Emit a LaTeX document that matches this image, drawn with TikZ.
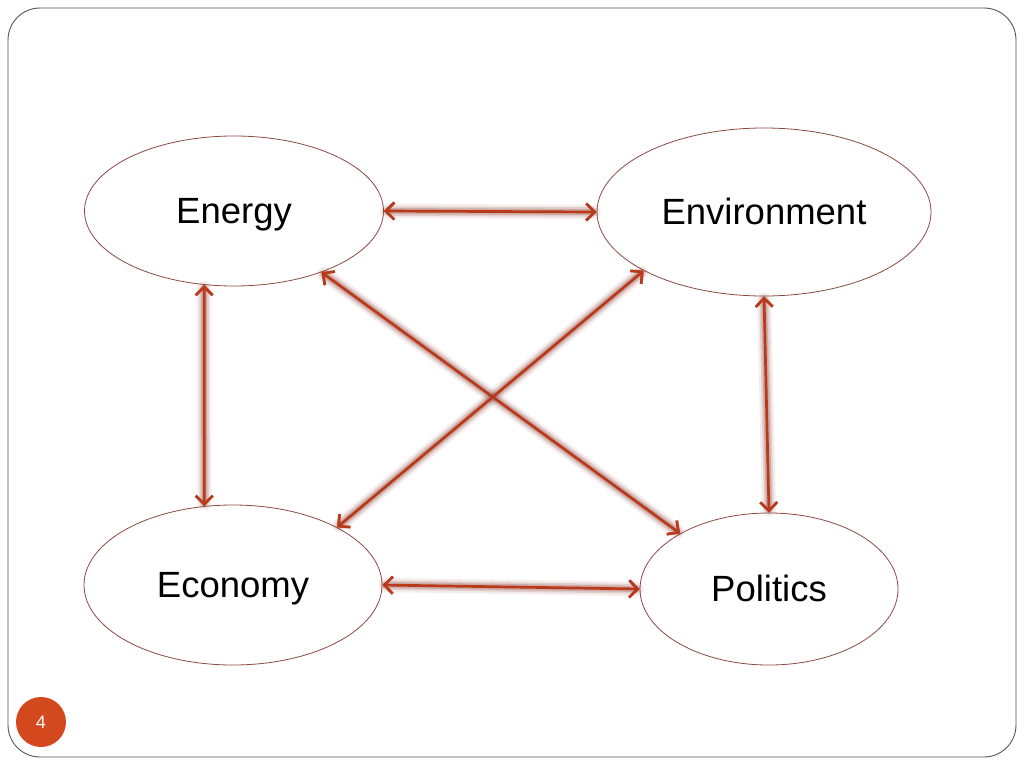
\documentclass[tikz,border=0pt]{standalone}
\usepackage{fontspec}
\setmainfont{Liberation Sans}
\usetikzlibrary{shapes.geometric,arrows.meta}
\definecolor{arrowcol}{HTML}{B83A1B}
\definecolor{glowcol}{HTML}{8E4038}
\definecolor{ellcol}{HTML}{8A4A44}
\definecolor{framecol}{HTML}{555555}
\definecolor{pagecol}{HTML}{D4481E}
\tikzset{
  bubble/.style={ellipse,draw=ellcol,line width=0.8pt,inner sep=0pt,fill=white,
    font=\fontsize{36.5}{40}\selectfont,text height=25pt,text depth=0pt},
  link/.style={draw=arrowcol,line width=2.7pt,line cap=round,
    {Straight Barb[length=8.5pt,width=17pt,line width=2.7pt]}-{Straight Barb[length=8.5pt,width=17pt,line width=2.7pt]},
    preaction={draw=glowcol,draw opacity=0.10,line width=14pt,line cap=round},
    preaction={draw=glowcol,draw opacity=0.18,line width=9.5pt,line cap=round},
    preaction={draw=glowcol,draw opacity=0.25,line width=6pt,line cap=round}},
}
\begin{document}
\begin{tikzpicture}[x=1pt,y=-1pt]
\useasboundingbox (0,0) rectangle (1024,768);
\draw[framecol,line width=0.9pt,rounded corners=32pt] (8,8) rectangle (1016,757);
\node[bubble,minimum width=299pt,minimum height=150pt] (Energy) at (234,211) {Energy};
\node[bubble,minimum width=334pt,minimum height=168pt] (Environment) at (764,212) {Environment};
\node[bubble,minimum width=298pt,minimum height=160pt] (Economy) at (233,585) {Economy};
\node[bubble,minimum width=258pt,minimum height=152pt] (Politics) at (769,589) {Politics};
\draw[link] (Energy.east) -- (Environment.west);
\draw[link] (Energy.248) -- (Economy.110);
\draw[link] (Environment.south) -- (Politics.north);
\draw[link] (Economy.east) -- (Politics.west);
\draw[link] (Energy.325) -- (Politics.148);
\draw[link] (Environment.206) -- (Economy.29);
\node[circle,fill=pagecol,minimum size=50pt,inner sep=0pt,text=white,font=\fontsize{18}{20}\selectfont] (page) at (41,722) {4};
\end{tikzpicture}
\end{document}
